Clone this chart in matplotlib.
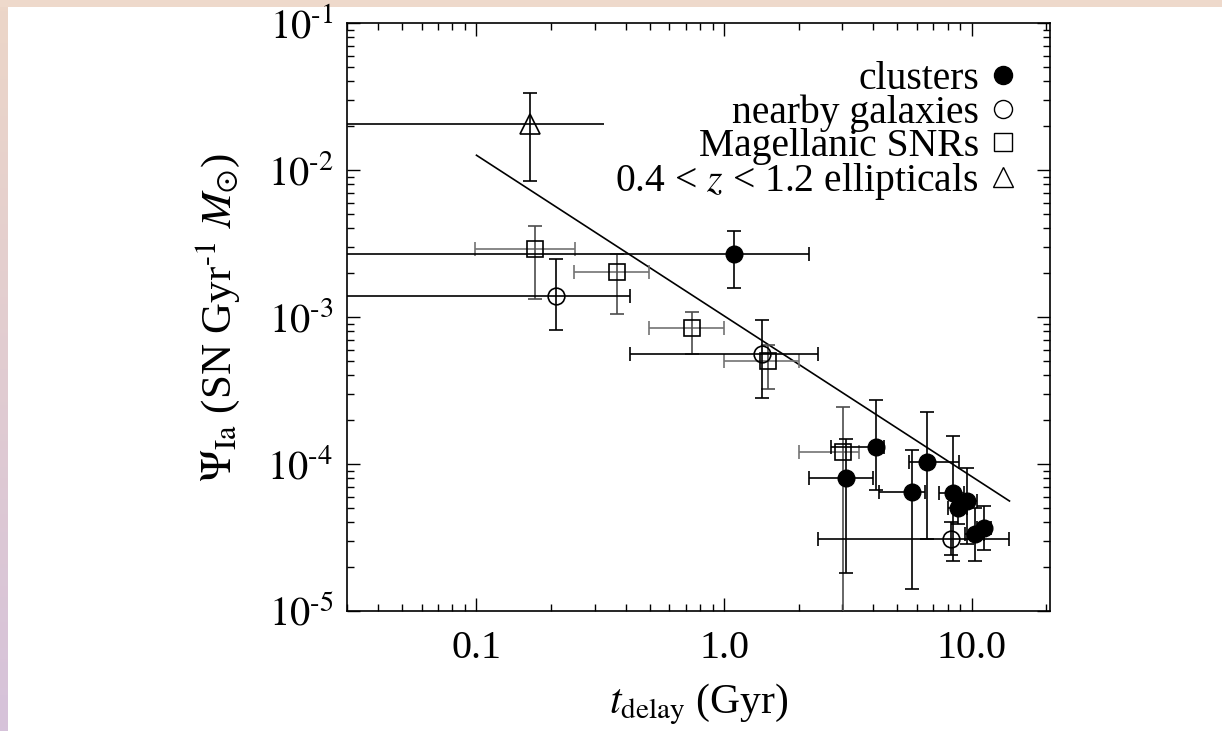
import numpy as np
import matplotlib
matplotlib.use('Agg')
import matplotlib.pyplot as plt
from matplotlib.lines import Line2D
from matplotlib.patches import Rectangle
from matplotlib.ticker import FixedLocator, LogLocator, NullFormatter

plt.rcParams['font.family'] = ['Liberation Serif', 'DejaVu Serif']
plt.rcParams['mathtext.fontset'] = 'stix'

# ---------------- data ----------------
# clusters (filled circles)
cl_t      = [1.10, 3.10, 4.10, 5.72, 6.60, 8.40, 9.56, 8.77, 11.2, 10.3]
cl_t_lo   = [0.02, 2.20, 2.70, 4.23, 5.60, 7.40, 9.00, 8.00, 10.5, 9.40]
cl_t_hi   = [2.20, 4.00, 4.43, 6.45, 8.90, 9.30, 10.5, 9.60, 12.0, 11.2]
cl_psi    = [2.7e-3, 8.0e-5, 1.31e-4, 6.5e-5, 1.03e-4, 6.35e-5, 5.57e-5, 5.0e-5, 3.68e-5, 3.33e-5]
cl_psi_lo = [1.58e-3, 1.82e-5, 6.7e-5, 1.42e-5, 3.08e-5, 2.2e-5, 2.87e-5, 3.9e-5, 2.6e-5, 2.2e-5]
cl_psi_hi = [3.85e-3, 1.47e-4, 2.74e-4, 1.24e-4, 2.26e-4, 1.55e-4, 9.4e-5, 6.2e-5, 5.2e-5, 5.0e-5]

# nearby galaxies (open circles)
gal_t      = [0.209, 1.42, 8.28]
gal_t_lo   = [0.02, 0.417, 2.40]
gal_t_hi   = [0.417, 2.40, 14.1]
gal_psi    = [1.39e-3, 5.63e-4, 3.07e-5]
gal_psi_lo = [8.1e-4, 2.79e-4, 2.4e-5]
gal_psi_hi = [2.47e-3, 9.55e-4, 4.0e-5]

# Magellanic SNRs (open squares)
snr_t      = [0.173, 0.371, 0.745, 1.51, 3.01]
snr_t_lo   = [0.099, 0.248, 0.498, 1.00, 2.01]
snr_t_hi   = [0.250, 0.498, 1.00, 2.01, 3.50]
snr_psi    = [2.92e-3, 2.02e-3, 8.47e-4, 5.02e-4, 1.21e-4]
snr_psi_lo = [1.32e-3, 1.04e-3, 5.57e-4, 3.26e-4, 1.0e-6]
snr_psi_hi = [4.14e-3, 2.70e-3, 1.08e-3, 6.5e-4, 2.45e-4]

# 0.4 < z < 1.2 ellipticals (open triangle)
ell_t      = [0.164]
ell_t_lo   = [0.02]
ell_t_hi   = [0.327]
ell_psi    = [0.0204]
ell_psi_lo = [0.00838]
ell_psi_hi = [0.0336]

# power-law line
line_t   = [0.10, 14.2]
line_psi = [0.0126, 5.6e-5]

# ticks
x_ticks       = [0.1, 1.0, 10.0]
x_tick_labels = ['0.1', '1.0', '10.0']
y_ticks       = [1e-5, 1e-4, 1e-3, 1e-2, 1e-1]
y_tick_labels = [r'$10^{\text{-5}}$', r'$10^{\text{-4}}$', r'$10^{\text{-3}}$',
                 r'$10^{\text{-2}}$', r'$10^{\text{-1}}$']

legend_labels = ['clusters', 'nearby galaxies', 'Magellanic SNRs',
                 r'0.4 < $z$ < 1.2 ellipticals']


def asym(v, lo, hi):
    v = np.asarray(v, float)
    return np.vstack([v - np.asarray(lo, float), np.asarray(hi, float) - v])


# ---------------- figure ----------------
W, H = 1222, 731
fig = plt.figure(figsize=(W / 100, H / 100), dpi=100)
fig.patch.set_facecolor('white')

# decorative frame bands
fig.add_artist(Rectangle((0, 1 - 7 / H), 1, 7 / H, transform=fig.transFigure,
                         facecolor='#eed9cb', edgecolor='none', zorder=-5))
band = fig.add_axes([0, 0, 8 / W, 1 - 7 / H], zorder=-5)
top_c = np.array([236, 214, 200]) / 255
bot_c = np.array([214, 194, 218]) / 255
grad = np.linspace(0, 1, 200)[:, None, None] * (bot_c - top_c) + top_c
band.imshow(grad, aspect='auto', extent=[0, 1, 0, 1])
band.axis('off')

ax = fig.add_axes([347 / W, 1 - 611 / H, (1050 - 347) / W, (611 - 23) / H])
ax.set_xscale('log')
ax.set_yscale('log')
ax.set_xlim(0.03, 20.7)
ax.set_ylim(1e-5, 1e-1)

lw = 1.2
cs = 5

# power law
ax.plot(line_t, line_psi, color='k', lw=1.2, zorder=2)

# ellipticals: y errors with caps, x error without cap
ax.errorbar(ell_t, ell_psi, yerr=asym(ell_psi, ell_psi_lo, ell_psi_hi),
            fmt='none', ecolor='k', elinewidth=lw, capsize=cs, capthick=lw, zorder=3)
ax.errorbar(ell_t, ell_psi, xerr=asym(ell_t, ell_t_lo, ell_t_hi),
            fmt='none', ecolor='k', elinewidth=lw, capsize=0, zorder=3)
ax.plot(ell_t, ell_psi, ls='none', marker='^', ms=15, mfc='none', mec='k', mew=1.2, zorder=4)

# Magellanic SNRs
ax.errorbar(snr_t, snr_psi, xerr=asym(snr_t, snr_t_lo, snr_t_hi),
            fmt='none', ecolor='0.45', elinewidth=lw, capsize=cs, capthick=lw, zorder=3)
ax.errorbar(snr_t, snr_psi, yerr=asym(snr_psi, snr_psi_lo, snr_psi_hi),
            fmt='none', ecolor='0.3', elinewidth=lw, capsize=cs, capthick=lw, zorder=3)
ax.plot(snr_t, snr_psi, ls='none', marker='s', ms=11, mfc='none', mec='k', mew=1.2, zorder=4)

# nearby galaxies
ax.errorbar(gal_t, gal_psi, xerr=asym(gal_t, gal_t_lo, gal_t_hi),
            yerr=asym(gal_psi, gal_psi_lo, gal_psi_hi),
            fmt='none', ecolor='k', elinewidth=lw, capsize=cs, capthick=lw, zorder=3)
ax.plot(gal_t, gal_psi, ls='none', marker='o', ms=12, mfc='none', mec='k', mew=1.2, zorder=4)

# clusters
ax.errorbar(cl_t, cl_psi, xerr=asym(cl_t, cl_t_lo, cl_t_hi),
            yerr=asym(cl_psi, cl_psi_lo, cl_psi_hi),
            fmt='none', ecolor='k', elinewidth=lw, capsize=cs, capthick=lw, zorder=3)
ax.plot(cl_t, cl_psi, ls='none', marker='o', ms=12, mfc='k', mec='k', zorder=5)

# ticks
ax.xaxis.set_major_locator(FixedLocator(x_ticks))
ax.set_xticklabels(x_tick_labels)
ax.xaxis.set_minor_locator(LogLocator(base=10, subs=np.arange(2, 10)))
ax.xaxis.set_minor_formatter(NullFormatter())
ax.yaxis.set_major_locator(FixedLocator(y_ticks))
ax.set_yticklabels(y_tick_labels)
ax.yaxis.set_minor_locator(LogLocator(base=10, subs=np.arange(2, 10)))
ax.yaxis.set_minor_formatter(NullFormatter())

ax.tick_params(which='both', direction='in', top=True, right=True, width=1.0, color='k')
ax.tick_params(which='major', length=9.5)
ax.tick_params(which='minor', length=5)
ax.tick_params(axis='x', which='major', labelsize=29, pad=14)
ax.tick_params(axis='y', which='major', labelsize=29, pad=10)
for s in ax.spines.values():
    s.set_linewidth(1.2)

ax.set_xlabel(r'$t_{\rm delay}$ (Gyr)', fontsize=30, labelpad=10)
ax.set_ylabel(r'$\Psi_{\rm Ia}$ (SN Gyr$^{\text{-1}}$ $M_{\odot}$)', fontsize=31, labelpad=18)

# legend
handles = [
    Line2D([], [], ls='none', marker='o', ms=13, mfc='k', mec='k'),
    Line2D([], [], ls='none', marker='o', ms=13, mfc='none', mec='k', mew=1.0),
    Line2D([], [], ls='none', marker='s', ms=13, mfc='none', mec='k', mew=1.0),
    Line2D([], [], ls='none', marker='^', ms=14, mfc='none', mec='k', mew=1.0),
]
leg = ax.legend(handles, legend_labels, loc='upper right', bbox_to_anchor=(0.955, 0.935),
                frameon=False, markerfirst=False, fontsize=28.5, handlelength=0.8,
                handletextpad=0.2, labelspacing=-0.1, borderpad=0, borderaxespad=0)

fig.savefig('out.png', dpi=100)
